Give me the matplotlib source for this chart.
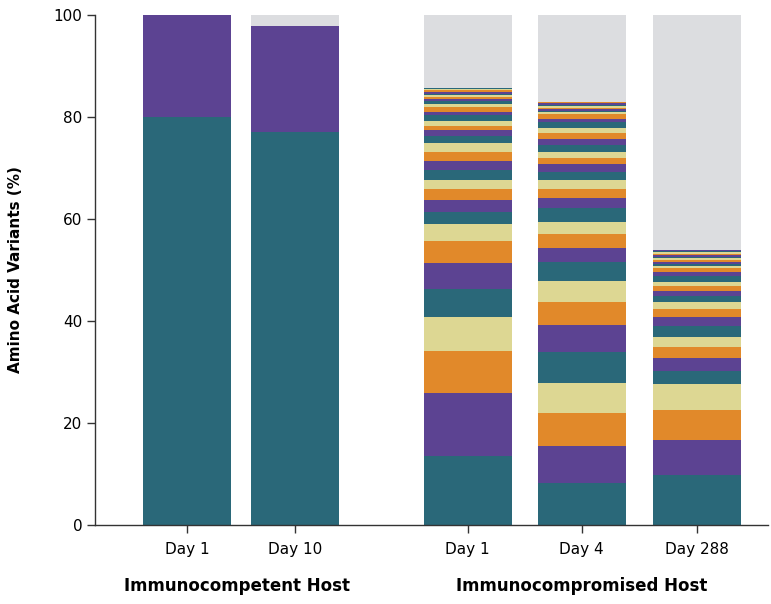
import matplotlib
matplotlib.use("Agg")
import matplotlib.pyplot as plt
import matplotlib.transforms as mtransforms

# ---- data ----
tick_labels = ["Day 1", "Day 10", "Day 1", "Day 4", "Day 288"]
group_labels = ["Immunocompetent Host", "Immunocompromised Host"]

comp_day1 = [80.0, 20.0]
comp_day10 = [77.0, 20.9]
immuno_day1 = [13.5, 12.4, 8.3, 6.6, 5.4, 5.1, 4.4, 3.3, 2.4, 2.3, 2.1, 1.8, 2.1, 1.7,
               1.8, 1.8, 1.3, 1.2, 0.7, 1.0, 1.1, 0.7, 1.0, 0.6, 0.5, 0.4, 0.4, 0.4,
               0.3, 0.3, 0.3, 0.2, 0.2]
immuno_day4 = [8.2, 7.3, 6.5, 5.9, 6.1, 5.2, 4.5, 4.1, 3.7, 2.9, 2.6, 2.5, 2.6, 2.0,
               1.8, 1.7, 1.7, 1.4, 1.2, 1.3, 1.3, 1.2, 1.1, 1.0, 1.3, 0.6, 0.8, 0.4,
               0.3, 0.3, 0.3, 0.3, 0.3, 0.3, 0.2]
immuno_day288 = [9.8, 6.9, 5.8, 5.1, 2.6, 2.5, 2.3, 1.9, 2.1, 1.7, 1.6, 1.5, 1.1, 1.0,
                 1.0, 0.8, 1.1, 0.9, 0.6, 0.4, 0.4, 0.4, 0.4, 0.4, 0.3, 0.3, 0.3, 0.3,
                 0.2, 0.2]
bars = [comp_day1, comp_day10, immuno_day1, immuno_day4, immuno_day288]

# ---- style ----
positions = [0, 1, 2.6, 3.655, 4.72]
bar_width = 0.815
cycle = ["#2a6879", "#5c4392", "#e1892a", "#ddd793"]
gray = "#dcdde0"

fig = plt.figure(figsize=(7.71, 6.04), dpi=100)
ax = fig.add_axes([95/771, 1 - 525/604, (768 - 95)/771, (525 - 15)/604])

for pos, segs in zip(positions, bars):
    bottom = 0.0
    for i, v in enumerate(segs):
        ax.bar(pos, v, bottom=bottom, width=bar_width, color=cycle[i % 4], linewidth=0)
        bottom += v
    if bottom < 100:
        ax.bar(pos, 100 - bottom, bottom=bottom, width=bar_width, color=gray, linewidth=0)

ax.set_ylim(0, 100)
ax.set_xlim((95 - 187) / 108, (768 - 187) / 108)
ax.set_yticks([0, 20, 40, 60, 80, 100])
ax.set_xticks(positions)
ax.set_xticklabels(tick_labels, fontsize=11)
ax.tick_params(axis="y", labelsize=11, length=6, width=1, color="#333333", pad=3)
ax.tick_params(axis="x", length=6, width=1, color="#333333", pad=6)
ax.spines["top"].set_visible(False)
ax.spines["right"].set_visible(False)
for s in ("left", "bottom"):
    ax.spines[s].set_color("#333333")
    ax.spines[s].set_linewidth(1)
ax.set_ylabel("Amino Acid Variants (%)", fontsize=11, fontweight="bold", labelpad=22)

trans = mtransforms.blended_transform_factory(ax.transData, fig.transFigure)
ax.text((positions[0] + positions[1]) / 2 - 0.04, 1 - 586/604, group_labels[0],
        transform=trans, ha="center", va="center", fontsize=12, fontweight="bold")
ax.text(positions[3], 1 - 586/604, group_labels[1],
        transform=trans, ha="center", va="center", fontsize=12, fontweight="bold")

fig.savefig("out.png", dpi=100)
